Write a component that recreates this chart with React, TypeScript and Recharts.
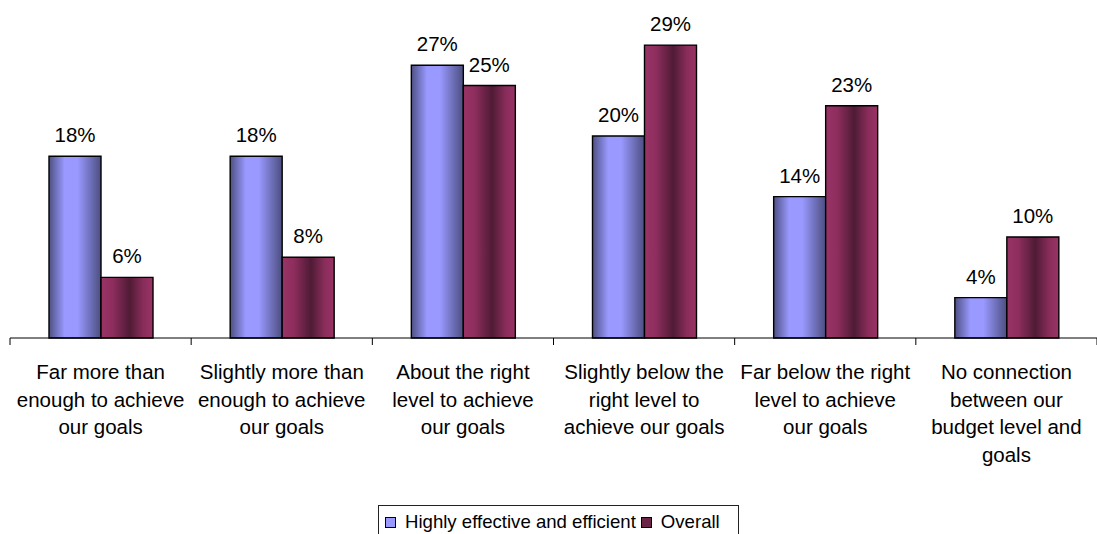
import { Bar, BarChart, LabelList, Legend, XAxis, YAxis } from 'recharts';

// Budget level question, two respondent groups.
const categories = [
  'Far more than\nenough to achieve\nour goals',
  'Slightly more than\nenough to achieve\nour goals',
  'About the right\nlevel to achieve\nour goals',
  'Slightly below the\nright level to\nachieve our goals',
  'Far below the right\nlevel to achieve\nour goals',
  'No connection\nbetween our\nbudget level and\ngoals',
];
const highlyEffective = [18, 18, 27, 20, 14, 4];
const overall = [6, 8, 25, 29, 23, 10];
const edgeTicks = [0, 1, 2, 3, 4, 5, 6];

const font = '"Liberation Sans", Arial, sans-serif';
const ink = '#000';

const data = categories.map((c, i) => ({
  name: c,
  idx: i,
  high: highlyEffective[i],
  overall: overall[i],
}));

function CategoryTick(props: any) {
  const { x, y, payload } = props;
  const lines = String(payload.value).split('\n');
  return (
    <text x={x} y={y} textAnchor="middle" fill={ink} fontSize={20.5} fontFamily={font}>
      {lines.map((l, i) => (
        <tspan key={i} x={x} dy={i === 0 ? 33 : 27.7}>
          {l}
        </tspan>
      ))}
    </text>
  );
}

function LegendBox() {
  const item = (fill: string, label: string) => (
    <span style={{ display: 'inline-flex', alignItems: 'center' }}>
      <span
        style={{
          display: 'inline-block',
          width: 9,
          height: 9,
          border: '1px solid #000',
          background: fill,
          marginRight: 9,
        }}
      />
      {label}
    </span>
  );
  return (
    <div
      style={{
        boxSizing: 'border-box',
        width: 361,
        height: 34,
        border: '1px solid #222',
        display: 'flex',
        alignItems: 'center',
        paddingLeft: 6,
        gap: 5,
        fontFamily: font,
        fontSize: 18.6,
        color: ink,
        whiteSpace: 'nowrap',
        background: '#fff',
      }}
    >
      {item('#9999ff', 'Highly effective and efficient')}
      {item('#6b2347', 'Overall')}
    </div>
  );
}

export default function App() {
  return (
    <div style={{ position: 'absolute', left: 0, top: 0, background: '#fff' }}>
      <BarChart
        width={1097}
        height={534}
        data={data}
        margin={{ top: 35, right: 0, left: 10, bottom: 38 }}
        barGap={0}
        barSize={52}
      >
        <defs>
          <linearGradient id="gBlue" x1="0" y1="0" x2="1" y2="0">
            <stop offset="0%" stopColor="#4e5083" />
            <stop offset="30%" stopColor="#9999ff" />
            <stop offset="55%" stopColor="#9999ff" />
            <stop offset="100%" stopColor="#4c4e80" />
          </linearGradient>
          <linearGradient id="gMaroon" x1="0" y1="0" x2="1" y2="0">
            <stop offset="0%" stopColor="#993366" />
            <stop offset="22%" stopColor="#8e2e5e" />
            <stop offset="55%" stopColor="#4f1b35" />
            <stop offset="82%" stopColor="#8a2d5b" />
            <stop offset="100%" stopColor="#993366" />
          </linearGradient>
        </defs>
        <XAxis
          xAxisId="a"
          type="number"
          dataKey="idx"
          domain={[0, 6]}
          ticks={edgeTicks}
          tick={() => <g />}
          tickSize={7}
          height={8}
          axisLine={{ stroke: '#000', strokeWidth: 1 }}
          tickLine={{ stroke: '#000', strokeWidth: 1 }}
        />
        <XAxis
          xAxisId="b"
          dataKey="name"
          interval={0}
          height={150}
          tickSize={0}
          tickMargin={0}
          axisLine={false}
          tickLine={false}
          tick={<CategoryTick />}
        />
        <YAxis hide domain={[0, 30]} />
        <Legend
          verticalAlign="middle"
          align="center"
          content={() => <LegendBox />}
          wrapperStyle={{ left: 378, top: 505, width: 361, height: 34 }}
        />
        <Bar
          xAxisId="b"
          dataKey="high"
          name="Highly effective and efficient"
          fill="url(#gBlue)"
          stroke="#000"
          strokeWidth={1.4}
          isAnimationActive={false}
        >
          <LabelList
            dataKey="high"
            position="top"
            offset={14}
            formatter={(v: any) => `${v}%`}
            fill={ink}
            fontSize={20.5}
            fontFamily={font}
          />
        </Bar>
        <Bar
          xAxisId="b"
          dataKey="overall"
          name="Overall"
          fill="url(#gMaroon)"
          stroke="#000"
          strokeWidth={1.4}
          isAnimationActive={false}
        >
          <LabelList
            dataKey="overall"
            position="top"
            offset={14}
            formatter={(v: any) => `${v}%`}
            fill={ink}
            fontSize={20.5}
            fontFamily={font}
          />
        </Bar>
      </BarChart>
    </div>
  );
}
